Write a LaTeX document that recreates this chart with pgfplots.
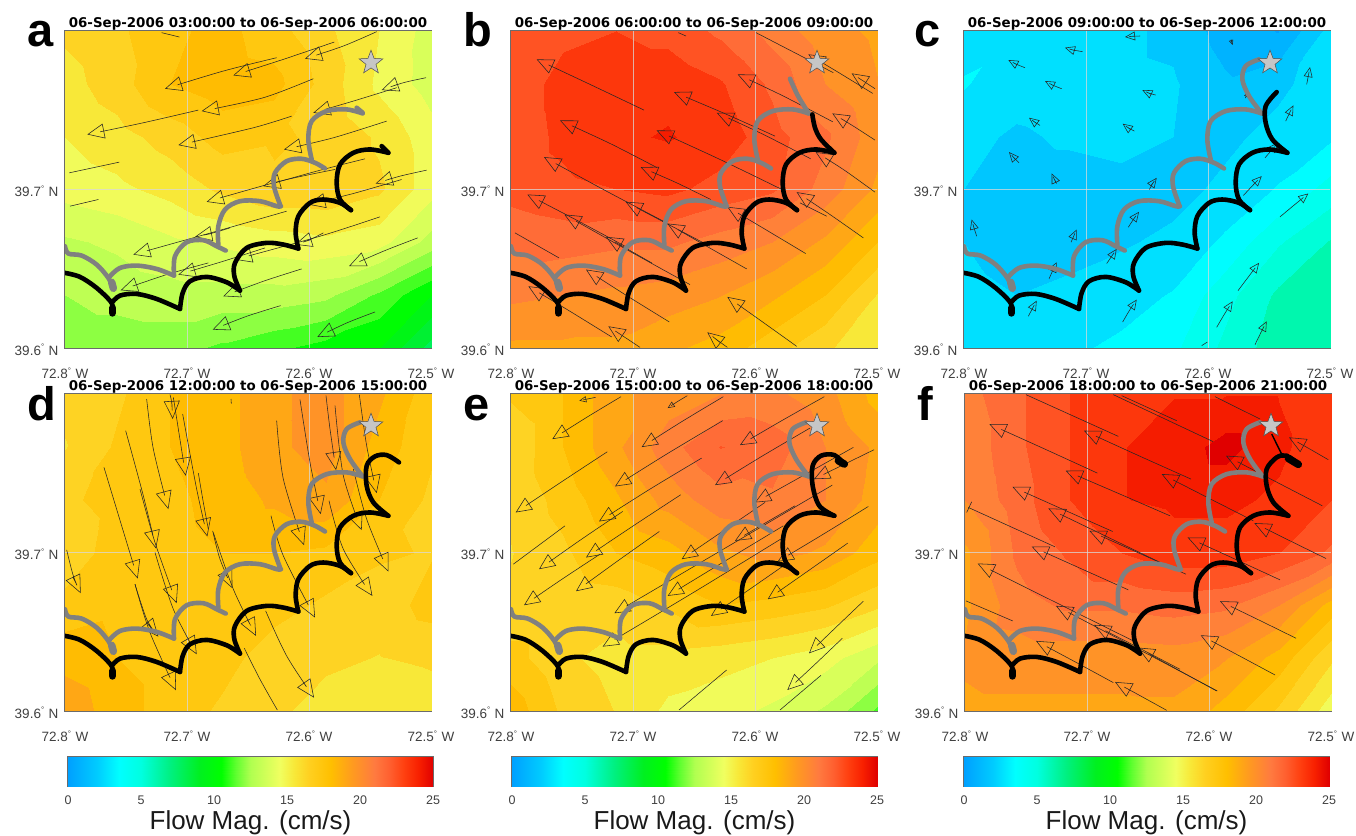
\documentclass[border=0pt]{standalone}
\usepackage{fontspec}
\setmainfont{Liberation Sans}
\newfontfamily\titlefont{DejaVu Sans}
\usepackage{pgfplots}
\pgfplotsset{compat=1.18}
\usetikzlibrary{arrows.meta}
\pgfdeclareplotmark{fstar}{%
  \pgfpathmoveto{\pgfqpointpolar{90}{\pgfplotmarksize}}%
  \pgfpathlineto{\pgfqpointpolar{126}{.42\pgfplotmarksize}}%
  \pgfpathlineto{\pgfqpointpolar{162}{\pgfplotmarksize}}%
  \pgfpathlineto{\pgfqpointpolar{198}{.42\pgfplotmarksize}}%
  \pgfpathlineto{\pgfqpointpolar{234}{\pgfplotmarksize}}%
  \pgfpathlineto{\pgfqpointpolar{270}{.42\pgfplotmarksize}}%
  \pgfpathlineto{\pgfqpointpolar{306}{\pgfplotmarksize}}%
  \pgfpathlineto{\pgfqpointpolar{342}{.42\pgfplotmarksize}}%
  \pgfpathlineto{\pgfqpointpolar{18}{\pgfplotmarksize}}%
  \pgfpathlineto{\pgfqpointpolar{54}{.42\pgfplotmarksize}}%
  \pgfpathclose\pgfusepathqfillstroke}
\definecolor{axgray}{gray}{0.42}
\definecolor{txt}{gray}{0.25}
\newcommand\dg{\raisebox{.42em}{\fontsize{8}{8}\selectfont °}\,\,}
\pgfplotsset{
  colormap={flow}{rgb255(0pt)=(0,160,255) rgb255(20pt)=(0,204,255) rgb255(35pt)=(0,255,255)
    rgb255(50pt)=(0,255,224) rgb255(70pt)=(0,240,128) rgb255(90pt)=(0,240,32) rgb255(105pt)=(0,255,0)
    rgb255(115pt)=(96,255,48) rgb255(125pt)=(176,255,80) rgb255(145pt)=(240,255,96) rgb255(155pt)=(248,232,56)
    rgb255(165pt)=(255,208,32) rgb255(180pt)=(255,191,0) rgb255(195pt)=(255,154,32) rgb255(210pt)=(255,122,64)
    rgb255(220pt)=(255,96,48) rgb255(230pt)=(255,64,16) rgb255(240pt)=(248,32,0) rgb255(250pt)=(224,0,0)},
  panel/.style={
    scale only axis,width=366pt,height=317pt,anchor=south west,
    xmin=195,xmax=1293,ymin=95,ymax=1045,y dir=reverse,
    point meta min=0,point meta max=25,
    xtick={195,561,927,1293},
    xticklabels={72.8\dg W,72.7\dg W,72.6\dg W,72.5\dg W},
    ytick={569,1045},
    yticklabels={39.7\dg N,39.6\dg N},
    tick style={draw=none},
    axis line style={draw=axgray,line width=1.2pt},
    xticklabel style={font=\fontsize{13.5}{15}\selectfont,text=txt,yshift=-16pt},
    yticklabel style={font=\fontsize{13.5}{15}\selectfont,text=txt,xshift=-3pt,yshift=-2pt},
    title style={font=\titlefont\bfseries\fontsize{13.4}{15}\selectfont,at={(0.5,1)},anchor=base,yshift=-2.5pt},
  },
  cbar/.style={
    scale only axis,width=365pt,height=29pt,anchor=south west,
    xmin=0,xmax=25,ymin=0,ymax=1,ytick=\empty,
    point meta min=0,point meta max=25,
    xtick={0,5,10,15,20,25},xticklabels={0,5,10,15,20,25},
    tick align=inside,major tick length=3pt,
    tick style={draw=axgray,line width=.6pt},
    axis line style={draw=axgray,line width=1.1pt},
    xticklabel style={font=\fontsize{12.5}{14}\selectfont,text=txt,yshift=-6pt},
    xlabel={Flow Mag. (cm/s)},
    xlabel style={font=\fontsize{26}{28}\selectfont,text=black!90,at={(0.5,0)},anchor=base,yshift=-43pt},
  },
}
\newcommand\field[1]{\addplot[contour filled={number=30},mesh/cols=8,mesh/ordering=x varies,point meta=\thisrowno{0}]
  table[header=false,row sep=crcr,x expr={195+mod(\coordindex+0.01,8)*156.86-0.01*156.86},y expr={95+floor((\coordindex+0.5)/8)*158.33}]{#1};}
\newcommand\gridl{%
  \addplot[white!70!gray,opacity=.75,line width=.7pt] coordinates {(561,95)(561,1045)};
  \addplot[white!70!gray,opacity=.75,line width=.7pt] coordinates {(927,95)(927,1045)};
  \addplot[white!70!gray,opacity=.75,line width=.7pt] coordinates {(195,569)(1293,569)};}
\def\dx{0}\def\hl{17}
\newcommand\arr[2][\hl]{\addplot[black!85,line width=.55pt,smooth,x filter/.expression={x+\dx},
  -{Triangle[open,length=#1*1pt,width=#1*0.88pt,line width=.55pt]}] coordinates {#2};}
\newcommand\lin[1]{\addplot[black!85,line width=.55pt,smooth,x filter/.expression={x+\dx}] coordinates {#1};}
\newcommand\trk[2][black]{\addplot[#1,line width=4.6pt,smooth,tension=.55,line cap=round,line join=round] coordinates {#2};}
\newcommand\blob[2][black]{\addplot[#1,line width=7.5pt,line cap=round] coordinates {#2};}
\newcommand\tracks{%
  \trk[gray]{(195,740)(205,762)(245,768)(290,795)(325,835)(340,868)}
  \blob[gray]{(335,848)(340,866)}
  \trk[gray]{(330,830)(360,805)(410,798)(470,808)(522,828)}
  \trk[gray]{(522,828)(525,770)(560,728)(610,722)(650,740)(677,753)}
  \trk[gray]{(655,735)(655,680)(675,630)(720,605)(780,605)(830,620)(843,620)}
  \trk[gray]{(840,615)(822,560)(825,520)(860,485)(905,478)(945,490)(975,507)}
  \trk[gray]{(935,480)(925,420)(935,365)(980,335)(1040,330)(1088,342)}
  \trk{(195,820)(240,832)(290,865)(335,910)(337,940)}
  \blob{(337,925)(337,940)}
  \trk{(335,910)(360,888)(410,883)(470,898)(540,928)}
  \trk{(540,928)(548,880)(570,845)(620,832)(680,848)(720,873)}
  \trk{(720,873)(703,830)(705,790)(740,745)(800,730)(850,735)(895,747)}
  \trk{(895,747)(887,700)(895,650)(930,610)(970,600)(1020,610)(1053,632)}
  \trk{(1053,632)(1020,600)(1010,550)(1020,495)(1060,460)(1110,450)(1165,460)}}
\newcommand\gstar{\addplot[only marks,mark=fstar,mark size=12.5pt,mark options={fill=white!55!gray,draw=black!70,line width=.5pt}] coordinates {(1113,190)};}
\newcommand\gfinal{\trk[gray]{(1088,342)(1050,290)(1030,240)(1040,200)(1080,180)}}
\begin{document}
\begin{tikzpicture}
\useasboundingbox (0,0) rectangle (1356pt,835pt);
%% ---------- a
\def\dx{0}\def\hl{17}
\begin{axis}[panel,at={(65pt,487pt)},title={06-Sep-2006 03:00:00 to 06-Sep-2006 06:00:00}]
\field{16\\16.5\\17.3\\17.8\\17\\16\\15\\13.8\\
15.5\\16.3\\17.5\\18\\17.8\\16.3\\14.8\\13.8\\
15\\15.5\\16.2\\17\\16.8\\16.5\\15.7\\14.5\\
14.5\\14.8\\15.3\\16\\16.5\\16.5\\16\\14.5\\
13.2\\13.5\\14\\14.3\\14.6\\14.8\\14.5\\13\\
12.5\\12.8\\13\\13\\13\\12.7\\11.5\\10\\
12\\12\\12\\11.5\\11\\10.5\\10\\8\\}
\gridl
\arr{(1130,97)(1030,140)(915,178)}
\arr{(1003,128)(850,180)(700,228)}
\arr{(830,175)(670,215)(495,268)}
\arr{(940,238)(790,295)(605,335)}
\arr{(595,332)(430,370)(262,405)}
\arr{(875,350)(760,385)(535,437)}
\arr{(1278,235)(1210,250)(1145,272)}
\arr{(1190,265)(1060,305)(940,340)}
\arr{(1160,365)(1000,415)(852,450)}
\arr{(1095,478)(950,515)(790,560)}
\arr{(1005,510)(840,545)(620,607)}
\arr{(860,635)(650,695)(400,765)}
\arr{(690,685)(640,700)(585,712)}
\arr{(1280,512)(1200,530)(1127,552)}
\arr{(1205,540)(1060,582)(925,615)}
\arr{(1140,652)(960,710)(705,780)}
\arr{(970,700)(930,720)(885,735)}
\arr{(795,745)(670,785)(535,825)}
\arr{(625,790)(500,825)(362,872)}
\arr{(1253,715)(1150,755)(1047,800)}
\arr{(905,808)(790,845)(670,890)}
\arr{(842,918)(740,950)(638,990)}
\arr{(1125,937)(1040,970)(952,1012)}
\lin{(358,488)(208,520)}
\lin{(295,600)(210,620)}
\lin{(538,113)(485,100)}
\tracks
\trk[gray]{(1088,340)(1070,325)}
\trk{(1165,460)(1145,440)}
\gstar
\end{axis}
\node[anchor=base,font=\bfseries\fontsize{47}{47}\selectfont] at (41pt,788pt) {a};
%% ---------- b
\def\dx{12}\def\hl{17}
\begin{axis}[panel,at={(511pt,487pt)},title={06-Sep-2006 06:00:00 to 06-Sep-2006 09:00:00}]
\field{22\\22.3\\22.5\\22.2\\21.5\\20.5\\19.5\\19\\
22\\22.8\\23.1\\23.1\\22.6\\21.5\\20\\19.2\\
22\\22.7\\23.2\\23.4\\23\\22\\21\\19.5\\
22\\22.3\\22.5\\22.7\\22.2\\21.8\\20.5\\19\\
21\\21.2\\21\\21\\20.5\\20\\19\\17.5\\
20.2\\20\\19.8\\19.6\\19.2\\18.5\\17.5\\15.8\\
19\\19\\19\\18.5\\18\\17\\16\\15\\}
\gridl
\arr{(582,332)(420,255)(260,180)}
\arr{(1148,367)(1000,290)(863,225)}
\arr{(975,410)(830,345)(672,278)}
\arr{(1082,478)(940,405)(800,340)}
\arr{(1000,572)(810,480)(620,393)}
\arr{(1275,578)(1180,510)(1097,458)}
\arr{(1275,268)(1240,245)(1205,222)}
\arr{(1268,282)(1170,222)(1075,165)}
\lin{(918,100)(1150,220)}
\arr{(1275,422)(1210,380)(1147,342)}
\arr{(1240,715)(1140,645)(1040,578)}
\lin{(1130,650)(1050,610)}
\arr{(1067,762)(950,692)(832,622)}
\arr{(890,808)(770,740)(652,672)}
\arr{(782,600)(680,550)(572,503)}
\arr{(622,505)(480,432)(330,363)}
\arr{(640,665)(460,570)(282,473)}
\arr{(720,855)(530,750)(343,645)}
\arr{(525,740)(380,662)(232,585)}
\arr{(780,740)(650,672)(527,607)}
\arr{(605,790)(535,750)(468,712)}
\arr{(658,967)(530,888)(408,810)}
\arr{(485,1012)(360,935)(235,860)}
\arr{(570,1043)(520,1010)(475,980)}
\arr{(832,1043)(800,1020)(772,998)}
\arr{(1040,1040)(935,965)(832,892)}
\lin{(195,700)(327,775)}
\lin{(685,100)(708,110)}
\tracks
\trk[gray]{(1088,342)(1059,295)(1044,265)(1032,238)}
\trk{(1165,460)(1125,420)(1107,385)(1099,345)}
\gstar
\end{axis}
\node[anchor=base,font=\bfseries\fontsize{47}{47}\selectfont] at (478pt,788pt) {b};
%% ---------- c
\def\dx{3}\def\hl{10}
\begin{axis}[panel,at={(964pt,487pt)},title={06-Sep-2006 09:00:00 to 06-Sep-2006 12:00:00}]
\field{3\\3.2\\3\\2.7\\2.3\\1.3\\0.8\\2.8\\
3.4\\2.8\\2.9\\2.7\\2.6\\1.8\\2.3\\3\\
2.7\\2.4\\2.6\\2.7\\2.5\\2.3\\2.8\\3.2\\
2.5\\2.2\\2.2\\2.3\\2.2\\2.7\\3.4\\4.5\\
2.5\\2.2\\2.2\\2.4\\2.7\\3.5\\4.9\\5.9\\
2.7\\2.5\\2.7\\3\\3.4\\4.7\\6\\6.2\\
2.7\\2.9\\3.2\\3.5\\4\\5.2\\6.3\\6.2\\}
\gridl
\arr{(375,205)(350,195)(325,182)}
\arr{(548,157)(520,152)(495,145)}
\arr{(720,110)(697,111)(675,113)}
\arr{(485,268)(460,258)(435,245)}
\arr{(767,287)(747,281)(727,272)}
\arr{(420,378)(403,367)(387,355)}
\arr{(703,395)(685,385)(668,373)}
\arr{(357,490)(342,475)(327,458)}
\arr{(470,552)(462,537)(455,522)}
\arr{(230,710)(222,685)(215,660)}
\arr{(748,570)(758,552)(770,535)}
\arr{(513,728)(521,710)(530,690)}
\arr{(685,683)(700,660)(717,637)}
\arr{(620,792)(635,770)(650,748)}
\arr{(447,838)(458,813)(470,788)}
\arr{(385,950)(397,927)(410,903)}
\arr{(668,967)(688,933)(710,900)}
\arr{(950,983)(973,944)(998,905)}
\arr{(1014,873)(1045,832)(1077,790)}
\arr{(1065,1035)(1082,1000)(1100,965)}
\arr{(1140,652)(1182,617)(1225,582)}
\arr{(1030,588)(1057,559)(1085,530)}
\arr{(1095,475)(1115,452)(1135,430)}
\arr{(1157,365)(1168,342)(1180,318)}
\arr{(1220,255)(1225,229)(1230,203)}
\arr[5]{(1036,296)(1040,288)(1045,278)}
\arr[5]{(993,120)(995,128)(998,137)}
\lin{(905,1038)(922,1027)}
\tracks
\gfinal
\trk{(1165,460)(1120,420)(1100,370)(1100,320)(1133,278)}
\gstar
\end{axis}
\node[anchor=base,font=\bfseries\fontsize{47}{47}\selectfont] at (928pt,788pt) {c};
%% ---------- d
\def\dx{0}\def\hl{18}
\begin{axis}[panel,at={(65pt,124pt)},title={06-Sep-2006 12:00:00 to 06-Sep-2006 15:00:00}]
\field{16\\16.5\\17.5\\18\\19\\19.5\\18.5\\17\\
15.8\\16.8\\17.5\\18\\19\\19.5\\18\\16.8\\
16.5\\17\\17.3\\17.8\\18.5\\19\\17.5\\16.5\\
16\\17.2\\17.2\\17.5\\17.5\\17.3\\16.8\\16.6\\
17\\17.3\\17.3\\17.3\\17\\16.5\\16.2\\17\\
18\\17.5\\17.2\\17\\16.2\\16\\15.8\\16\\
19\\17.8\\17.2\\16.5\\16\\15.5\\15\\15.3\\}
\gridl
\arr{(510,97)(515,120)(518,170)}
\arr{(520,105)(535,200)(557,340)}
\arr{(440,110)(460,260)(505,440)}
\arr{(377,205)(430,400)(468,558)}
\arr{(312,315)(365,490)(413,648)}
\arr{(420,380)(465,540)(530,722)}
\arr{(548,155)(590,380)(622,522)}
\lin{(595,332)(610,420)(625,500)}
\arr{(405,665)(440,770)(475,822)}
\arr{(200,562)(220,640)(242,692)}
\arr{(638,505)(660,590)(697,677)}
\arr{(465,570)(520,740)(590,875)}
\arr{(405,665)(450,810)(528,983)}
\arr{(640,510)(700,680)(768,820)}
\lin{(733,857)(780,950)(832,1042)}
\arr{(797,745)(860,880)(942,1005)}
\arr{(813,460)(850,580)(945,765)}
\arr{(830,175)(850,350)(912,548)}
\arr{(900,112)(930,300)(962,455)}
\arr{(978,100)(990,200)(1008,323)}
\arr{(1005,130)(1030,340)(1085,503)}
\arr{(1078,97)(1100,250)(1130,392)}
\arr{(1060,320)(1100,470)(1165,627)}
\arr{(987,415)(1030,560)(1117,700)}
\lin{(693,110)(694,124)}
\tracks
\gfinal
\trk{(1165,460)(1120,420)(1100,370)(1100,310)(1125,282)(1160,278)(1197,300)}
\gstar
\end{axis}
\node[anchor=base,font=\bfseries\fontsize{47}{47}\selectfont] at (42pt,414pt) {d};
%% ---------- e
\def\dx{12}\def\hl{16}
\begin{axis}[panel,at={(511pt,124pt)},title={06-Sep-2006 15:00:00 to 06-Sep-2006 18:00:00}]
\field{16.8\\17.5\\19\\19.5\\20\\20.2\\19.5\\18\\
16\\17.5\\19\\20.5\\21.7\\21.3\\20\\19\\
16\\17\\18.2\\19.5\\20.5\\20.7\\20\\18.8\\
15.8\\16.5\\17.5\\18\\19\\19.5\\19\\17.8\\
16\\16\\16.2\\16.8\\17.5\\17.2\\16.8\\16\\
17\\16\\15.5\\15.5\\15.3\\15\\14.5\\13.5\\
18\\16.5\\15.8\\14.8\\14.5\\14\\13.2\\11.5\\}
\gridl
\arr{(513,103)(410,165)(307,230)}
\arr{(820,103)(695,178)(575,254)}
\arr{(1123,103)(995,175)(870,248)}
\arr[7]{(437,105)(412,110)(388,115)}
\arr[7]{(712,100)(682,118)(653,137)}
\arr{(818,175)(655,272)(495,372)}
\arr{(1080,197)(935,282)(795,368)}
\arr{(472,268)(335,358)(197,450)}
\arr{(755,287)(600,380)(447,477)}
\arr{(692,397)(550,490)(408,585)}
\arr{(518,447)(392,532)(267,620)}
\arr{(628,507)(502,596)(378,686)}
\arr{(450,575)(336,650)(222,728)}
\arr{(1210,255)(1062,338)(915,420)}
\arr{(1272,262)(1182,306)(1092,350)}
\arr{(1147,368)(820,560)(493,752)}
\arr{(945,420)(820,505)(695,590)}
\arr{(1035,430)(945,482)(855,535)}
\arr{(1000,490)(826,595)(653,700)}
\arr{(1000,525)(730,690)(458,852)}
\arr{(1193,542)(1073,626)(953,710)}
\arr{(1255,432)(1120,515)(983,597)}
\arr{(1000,610)(892,685)(783,760)}
\arr{(1240,716)(1158,794)(1077,872)}
\arr{(1177,827)(1095,905)(1012,982)}
\lin{(830,922)(687,1042)}
\lin{(1113,938)(990,1042)}
\lin{(345,490)(190,605)}
\tracks
\gfinal
\trk{(1165,460)(1120,430)(1100,370)(1100,310)(1125,280)(1165,278)(1195,305)}
\blob{(1177,295)(1195,305)}
\gstar
\end{axis}
\node[anchor=base,font=\bfseries\fontsize{47}{47}\selectfont] at (477pt,414pt) {e};
%% ---------- f
\def\dx{0}\def\hl{17}
\begin{axis}[panel,at={(965pt,124pt)},title={06-Sep-2006 18:00:00 to 06-Sep-2006 21:00:00}]
\field{20.5\\21.5\\22.5\\23\\23.3\\23.3\\23.3\\22.8\\
20.2\\21.5\\22.5\\23.3\\23.7\\24.5\\23.5\\22.8\\
20\\21.3\\22.5\\23.3\\23.5\\23.5\\23.2\\22.5\\
19\\21\\21.8\\22.5\\23\\23\\22.5\\21.5\\
19\\20.5\\21\\21\\21.2\\21\\20\\18\\
19.3\\19.5\\19.5\\19.5\\19.6\\19.2\\18\\16\\
19\\19\\19\\19\\19\\18\\16.5\\14.5\\}
\gridl
\arr{(592,332)(430,258)(268,185)}
\arr{(873,350)(712,278)(552,205)}
\arr{(810,460)(653,392)(497,325)}
\arr{(1060,475)(922,405)(785,335)}
\arr{(1278,588)(1170,535)(1063,482)}
\arr{(1267,430)(1122,355)(978,280)}
\arr{(1285,292)(1226,258)(1167,225)}
\arr{(638,507)(487,440)(337,373)}
\arr{(785,602)(615,520)(445,438)}
\arr{(858,635)(713,570)(568,505)}
\arr{(685,682)(540,617)(395,552)}
\arr{(700,835)(466,719)(233,603)}
\arr{(1140,652)(1001,588)(863,525)}
\arr{(952,985)(710,857)(468,730)}
\arr{(840,920)(711,853)(582,787)}
\arr{(950,985)(831,920)(713,855)}
\arr{(800,1043)(722,1000)(645,958)}
\arr{(640,960)(524,897)(408,835)}
\arr{(1188,827)(1074,771)(960,716)}
\arr{(1125,937)(1013,877)(902,818)}
\lin{(378,97)(655,222)}
\lin{(640,97)(940,238)}
\lin{(665,100)(830,175)}
\lin{(945,103)(1080,170)}
\lin{(198,715)(338,775)}
\lin{(205,435)(465,553)}
\lin{(200,450)(215,418)}
\addplot[black,line width=1.4pt] coordinates {(1115,215)(1130,245)(1145,275)};
\tracks
\gfinal
\trk{(1165,460)(1120,420)(1100,370)(1100,320)(1130,285)(1160,280)(1195,305)}
\blob{(1165,288)(1195,306)}
\gstar
\end{axis}
\node[anchor=base,font=\bfseries\fontsize{47}{47}\selectfont] at (925pt,414pt) {f};
%% ---------- colour bars
\begin{axis}[cbar,at={(68pt,49pt)}]
\addplot[surf,shader=interp,mesh/cols=2,point meta=x] coordinates {(0,0)(25,0)(0,1)(25,1)};
\end{axis}
\begin{axis}[cbar,at={(512pt,49pt)}]
\addplot[surf,shader=interp,mesh/cols=2,point meta=x] coordinates {(0,0)(25,0)(0,1)(25,1)};
\end{axis}
\begin{axis}[cbar,at={(964pt,49pt)}]
\addplot[surf,shader=interp,mesh/cols=2,point meta=x] coordinates {(0,0)(25,0)(0,1)(25,1)};
\end{axis}
\end{tikzpicture}
\end{document}
